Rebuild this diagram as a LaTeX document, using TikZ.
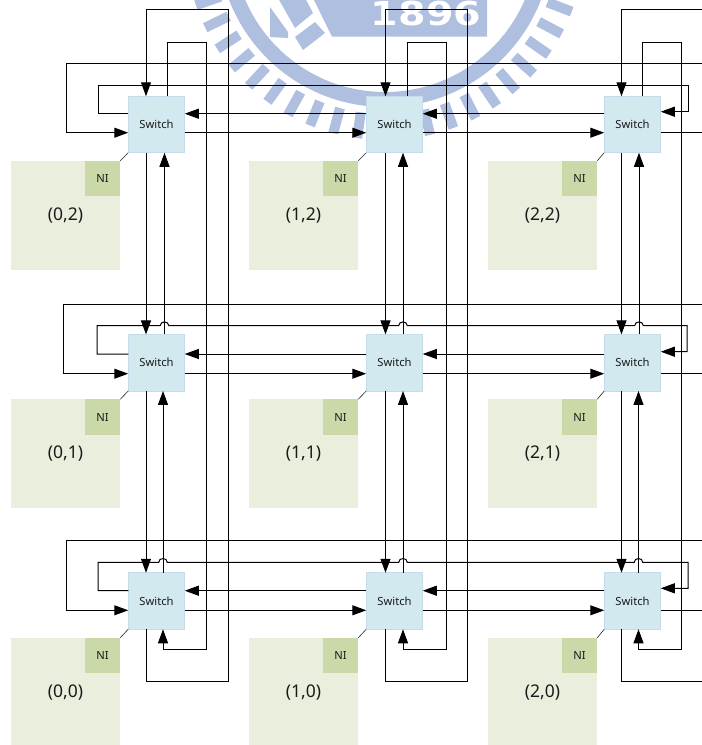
\documentclass[tikz,border=0pt]{standalone}
\usepackage{fontspec}
\setmainfont{Noto Sans}
\newfontfamily\wmfont{DejaVu Sans}
\usetikzlibrary{arrows.meta,calc}
\definecolor{wmblue}{HTML}{AEBFDF}
\definecolor{tilefill}{HTML}{EAEEDD}
\definecolor{nifill}{HTML}{CBD9A8}
\definecolor{swfill}{HTML}{D2E9F0}
\definecolor{swline}{HTML}{C6DCEA}
\definecolor{inktext}{HTML}{1A1A1A}
\tikzset{
  switchbox/.style={draw=swline,line width=0.8pt,fill=swfill,minimum size=56.5pt,inner sep=0pt,outer sep=0pt,text=inktext,font=\fontsize{11.2}{13}\selectfont},
  tilebox/.style={fill=tilefill,minimum size=109pt,inner sep=0pt,outer sep=0pt,text=inktext,font=\fontsize{17.5}{20}\selectfont},
  nibox/.style={fill=nifill,minimum size=35.5pt,inner sep=0pt,outer sep=0pt,text=inktext,font=\fontsize{11.2}{13}\selectfont},
  link/.style={draw=black,line width=1pt},
  arrowlink/.style={link,-{Triangle[length=14pt,width=10pt]}},
  nilink/.style={draw=black!85,line width=0.6pt},
  wmtick/.style={draw=wmblue,line width=10pt},
}
\newcommand{\hopover}[2]{-- ($(#1 |- #2)+(-4.3,0)$) .. controls +(0,-5) and +(0,-5) .. ($(#1 |- #2)+(4.3,0)$)}
\begin{document}
\begin{tikzpicture}[x=1pt,y=-1pt]
\useasboundingbox (0,0) rectangle (702,745);
\clip (0,0) rectangle (702,745);
% watermark
\coordinate (wm) at (385,-60);
\draw[draw=wmblue,line width=15pt] (wm) circle[radius=159.5];
\foreach \a in {21,28,...,161}
  \draw[wmtick] ($(wm)+(\a:174)$) -- ($(wm)+(\a:200)$);
\fill[wmblue] (313,-2) -- (332,36.7) -- (487,36.7) -- (487,-2) -- cycle;
\fill[wmblue] (270,7) -- (288,32) -- (288,38) -- (270,37) -- cycle;
\fill[wmblue] (295,37) -- (315,22) -- (325,33) -- (303,50) -- cycle;
\fill[wmblue] (278,-2) -- (305,-2) -- (313,13) -- (295,28) -- cycle;
\node[inner sep=0pt,text=white,xscale=1.2] (year) at (426,13) {\wmfont\bfseries\fontsize{33}{36}\selectfont 1896};
% tiles, network interfaces, switches
\foreach \c/\sx/\tx/\nx in {0/156.5/65.5/102.5,1/394.5/303.5/340.5,2/632.5/542.5/579.5}
  \foreach \r/\sy/\ty/\ny in {2/124.5/215.5/178.5,1/362.7/453.7/417,0/601/692.5/655.5} {
    \node[tilebox] (t\c\r) at (\tx,\ty) {(\c,\r)};
    \node[nibox] (n\c\r) at (\nx,\ny) {NI};
    \node[switchbox] (s\c\r) at (\sx,\sy) {Switch};
    \draw[nilink] (n\c\r.north east) -- (s\c\r.south west);
  }
% free ends and routing lines
\coordinate (edgeR) at (702,0);
\foreach \c/\dn/\ua/\ub/\nt/\ix/\ox in {0/146/164.5/163/167/206/228,1/385.5/403/403/407/446/467,2/621.5/639/638.5/642.3/681/702} {
  \coordinate (dn\c) at (\dn,0);
  \coordinate (upa\c) at (\ua,0);
  \coordinate (upb\c) at (\ub,0);
  \coordinate (nt\c) at (\nt,0);
  \coordinate (ix\c) at (\ix,0);
  \coordinate (ox\c) at (\ox,0);
}
\coordinate (wrapT) at (0,9.5);
\coordinate (wrapN) at (0,42);
\coordinate (wrapB) at (0,681);
\coordinate (wrapS) at (0,649);
\foreach \r/\yt/\xl/\ym/\xm/\yw/\ye/\xr/\yi in {2/63.5/66/85.3/98/113.7/132.7/688/111.7,1/304.7/63.5/325.7/97/354/373.7/687/351.7,0/540.7/66/562.3/98/590.7/610.3/688/588.3} {
  \coordinate (top\r) at (\xl,\yt);
  \coordinate (mid\r) at (\xm,\ym);
  \coordinate (west\r) at (\xm,\yw);
  \coordinate (east\r) at (\xl,\ye);
  \coordinate (rt\r) at (\xr,\ym);
  \coordinate (in\r) at (\xr,\yi);
}
% vertical links between rows and wrap-around links
\foreach \c in {0,1,2} {
  \draw[arrowlink] (dn\c |- s\c2.south) -- (dn\c |- s\c1.north);
  \draw[arrowlink] (dn\c |- s\c1.south) -- (dn\c |- s\c0.north);
  \draw[arrowlink] (upa\c |- s\c1.north) -- (upa\c |- s\c2.south);
  \draw[arrowlink] (upb\c |- s\c0.north) -- (upb\c |- s\c1.south);
  \draw[arrowlink] (nt\c |- s\c2.north) -- (nt\c |- wrapN) -- (ix\c |- wrapN) -- (ix\c |- wrapS) -- (upb\c |- wrapS) -- (upb\c |- s\c0.south);
}
\foreach \c in {0,1}
  \draw[arrowlink] (dn\c |- s\c0.south) -- (dn\c |- wrapB) -- (ox\c |- wrapB) -- (ox\c |- wrapT) -- (dn\c |- wrapT) -- (dn\c |- s\c2.north);
\draw[link] (dn2 |- s20.south) -- (dn2 |- wrapB) -- (ox2 |- wrapB);
\draw[arrowlink] (ox2 |- wrapT) -- (dn2 |- wrapT) -- (dn2 |- s22.north);
\foreach \r in {2,1,0} {
  % eastward and westward links
  \draw[arrowlink] (s0\r.east |- east\r) -- (s1\r.west |- east\r);
  \draw[arrowlink] (s1\r.east |- east\r) -- (s2\r.west |- east\r);
  \draw[arrowlink] (s1\r.west |- west\r) -- (s0\r.east |- west\r);
  \draw[arrowlink] (s2\r.west |- west\r) -- (s1\r.east |- west\r);
  % wrap-around east to west
  \draw[link] (s2\r.east |- east\r) -- (edgeR |- east\r);
  \draw[arrowlink] (edgeR |- top\r) -- (top\r) -- (east\r) -- (s0\r.west |- east\r);
}
% west output wrapped to the east input, hopping the upward links
\draw[arrowlink] (s02.west |- west2) -- (west2) -- (mid2) -- (rt2) -- (in2) -- (s22.east |- in2);
\draw[arrowlink] (s01.west |- west1) -- (west1) -- (mid1)
  \hopover{upa0}{mid1} \hopover{upa1}{mid1} \hopover{upa2}{mid1}
  -- (rt1) -- (in1) -- (s21.east |- in1);
\draw[arrowlink] (s00.west |- west0) -- (west0) -- (mid0)
  \hopover{upb0}{mid0} \hopover{upb1}{mid0} \hopover{upb2}{mid0}
  -- (rt0) -- (in0) -- (s20.east |- in0);
\end{tikzpicture}
\end{document}
